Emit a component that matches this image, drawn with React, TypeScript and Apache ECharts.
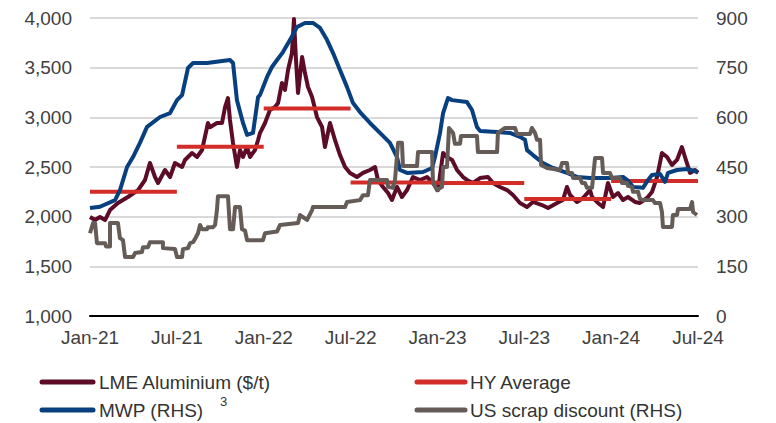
import React, { useEffect, useRef } from "react";
import * as echarts from "echarts";

// x positions are months since Jan-21 (0 = Jan-21, 42 = Jul-24)
const xTickLabels = ["Jan-21", "Jul-21", "Jan-22", "Jul-22", "Jan-23", "Jul-23", "Jan-24", "Jul-24"];
const leftTicks = [1000, 1500, 2000, 2500, 3000, 3500, 4000];
const rightTicks = [0, 150, 300, 450, 600, 750, 900];

// LME Aluminium ($/t), left axis
const lmeAluminium: [number, number][] = [
  [0, 1997], [0.35, 1966], [0.69, 1997], [1.04, 1966], [1.38, 2067], [1.93, 2138], [2.62, 2198],
  [3.32, 2268], [3.8, 2369], [4.14, 2540], [4.49, 2399], [4.7, 2339], [5.18, 2470], [5.53, 2399],
  [5.87, 2540], [6.36, 2500], [6.56, 2571], [7.05, 2641], [7.39, 2601], [7.74, 2671], [8.15, 2943],
  [8.29, 2900], [8.77, 2943], [9.12, 2943], [9.33, 3104], [9.53, 3194], [9.67, 2973], [9.88, 2742],
  [10.15, 2500], [10.36, 2671], [10.57, 2601], [10.85, 2701], [11.05, 2601], [11.4, 2671], [11.61, 2772],
  [11.74, 2842], [12.09, 2943], [12.43, 3074], [12.78, 3104], [12.99, 3144], [13.26, 3346], [13.47, 3275],
  [13.68, 3477], [13.95, 3648], [14.09, 3990], [14.23, 3577], [14.37, 3245], [14.65, 3608], [14.85, 3446],
  [15.06, 3305], [15.34, 3205], [15.68, 3003], [16.03, 2903], [16.23, 2701], [16.58, 2943], [16.92, 2772],
  [17.27, 2620], [17.62, 2500], [17.96, 2440], [18.44, 2399], [18.86, 2440], [19.34, 2470], [19.69, 2500],
  [19.89, 2369], [20.24, 2299], [20.59, 2238], [20.86, 2168], [21.21, 2299], [21.55, 2198], [21.9, 2268],
  [22.31, 2399], [22.8, 2369], [23.28, 2399], [23.69, 2339], [24.04, 2268], [24.39, 2641], [24.66, 2600],
  [25.01, 2571], [25.35, 2470], [25.77, 2399], [26.04, 2370], [26.46, 2339], [26.94, 2389], [27.49, 2399],
  [27.84, 2339], [28.32, 2299], [28.81, 2268], [29.22, 2218], [29.7, 2138], [30.19, 2097], [30.6, 2148],
  [31.22, 2117], [31.64, 2087], [32.26, 2138], [32.67, 2168], [32.95, 2299], [33.16, 2218], [33.64, 2148],
  [34.06, 2188], [34.54, 2268], [34.68, 2198], [35.09, 2138], [35.44, 2097], [35.78, 2339], [36.13, 2198],
  [36.47, 2238], [36.82, 2168], [37.16, 2198], [37.65, 2148], [37.99, 2138], [38.48, 2188], [38.82, 2248],
  [39.17, 2399], [39.51, 2641], [39.86, 2601], [40.2, 2520], [40.55, 2571], [40.89, 2701], [41.1, 2601],
  [41.45, 2440], [41.79, 2470], [42, 2440]
];

// Half-year average of LME ($/t), left axis: [start, end, value]
const hyAverage: [number, number, number][] = [
  [0, 6, 2250], [6, 12, 2705], [12, 18, 3090], [18, 24, 2345], [24, 30, 2338], [30, 36, 2178], [36, 42, 2360]
];

// MWP (RHS)
const mwp: [number, number][] = [
  [0, 326], [0.69, 330], [1.73, 350], [2.07, 380], [2.56, 450], [2.97, 480], [3.45, 523], [3.94, 571],
  [4.84, 601], [5.53, 613], [6.01, 652], [6.36, 667], [6.77, 749], [7.12, 764], [8.08, 764], [9.67, 773],
  [9.88, 764], [10.15, 652], [10.57, 583], [10.85, 547], [11.26, 553], [11.61, 661], [11.74, 667],
  [12.23, 722], [12.57, 752], [12.92, 773], [13.33, 797], [13.82, 834], [14.3, 873], [14.85, 885],
  [15.4, 885], [15.89, 870], [16.37, 834], [16.79, 794], [17.27, 743], [17.75, 692], [18.17, 643],
  [18.65, 616], [19.34, 583], [20.03, 553], [20.72, 523], [21.21, 480], [21.41, 441], [21.9, 432],
  [23.0, 435], [23.63, 447], [23.83, 480], [24.18, 553], [24.39, 613], [24.73, 658], [25.01, 652],
  [26.04, 646], [26.39, 622], [26.73, 571], [26.94, 559], [28.12, 556], [29.01, 553], [29.7, 541],
  [30.05, 532], [30.19, 501], [30.6, 486], [31.29, 462], [31.98, 447], [32.95, 432], [33.64, 420],
  [34.54, 417], [35.92, 417], [36.82, 420], [37.1, 411], [37.51, 390], [38.2, 387], [38.55, 411],
  [38.82, 426], [39.38, 429], [39.72, 405], [39.93, 432], [40.55, 441], [41.24, 444], [42, 435]
];

// US scrap discount (RHS)
const usScrapDiscount: [number, number][] = [
  [0, 250], [0.21, 281], [0.35, 281], [0.48, 220], [1.04, 220], [1.11, 210], [1.38, 210], [1.38, 281],
  [1.93, 281], [2.07, 235], [2.28, 229], [2.42, 178], [2.97, 178], [3.11, 190], [3.59, 193], [3.66, 208],
  [4.01, 208], [4.14, 223], [5.04, 223], [5.04, 205], [5.87, 202], [6.01, 178], [6.36, 178], [6.42, 202],
  [6.77, 205], [6.91, 220], [7.12, 223], [7.25, 232], [7.46, 250], [7.6, 275], [7.74, 262], [8.08, 262],
  [8.15, 268], [8.5, 268], [8.64, 275], [8.77, 320], [8.84, 362], [9.53, 362], [9.67, 262], [9.88, 262],
  [10.02, 329], [10.36, 329], [10.5, 262], [10.71, 258], [10.85, 229], [11.95, 229], [12.09, 250],
  [12.92, 255], [13.13, 275], [14.37, 281], [14.51, 305], [14.99, 290], [15.34, 320], [15.4, 329],
  [17.62, 329], [17.75, 344], [18.65, 350], [18.86, 365], [19.2, 365], [19.34, 411], [20.52, 411],
  [20.59, 390], [20.93, 387], [21.07, 411], [21.28, 523], [21.55, 523], [21.62, 453], [22.59, 453],
  [22.66, 495], [23.63, 495], [23.69, 405], [23.97, 380], [24.32, 390], [24.39, 450], [24.66, 450],
  [24.8, 568], [25.08, 553], [25.21, 520], [25.56, 520], [25.63, 544], [26.73, 544], [26.8, 495],
  [28.12, 495], [28.18, 553], [28.67, 568], [29.36, 568], [29.5, 550], [30.4, 550], [30.53, 568],
  [30.74, 553], [30.88, 532], [31.09, 532], [31.16, 456], [31.57, 447], [32.47, 441], [32.61, 462],
  [32.95, 462], [33.02, 432], [33.3, 432], [33.37, 417], [33.85, 417], [33.99, 402], [34.19, 402],
  [34.33, 387], [34.68, 387], [34.89, 477], [35.37, 477], [35.44, 432], [35.92, 432], [36.06, 417],
  [36.61, 417], [36.75, 402], [37.1, 402], [37.16, 393], [37.44, 390], [37.51, 375], [37.86, 375],
  [37.99, 354], [38.2, 350], [38.89, 350], [39.03, 341], [39.38, 341], [39.51, 314], [39.58, 269],
  [40.2, 269], [40.27, 305], [40.55, 305], [40.62, 323], [41.45, 323], [41.59, 344], [41.66, 314],
  [41.93, 305]
];

const FONT = "'Liberation Sans', Arial, Helvetica, sans-serif";
const TEXT = "#404040";
const C_LME = "#5c0c27";
const C_HY = "#d22d28";
const C_MWP = "#073f7f";
const C_SCRAP = "#655c57";

export default function App() {
  const ref = useRef<HTMLDivElement>(null);

  useEffect(() => {
    document.body.style.margin = "0";
    if (!ref.current) return;
    const chart = echarts.init(ref.current, undefined, { renderer: "svg" });

    const hySeries = hyAverage.map(([a, b, v]) => ({
      name: "HY Average",
      type: "line" as const,
      yAxisIndex: 0,
      symbol: "none",
      z: 3,
      lineStyle: { color: C_HY, width: 4, cap: "butt" as const },
      itemStyle: { color: C_HY },
      data: [[a, v], [b, v]],
    }));

    const legendCommon = {
      orient: "vertical" as const,
      top: 372,
      height: 60,
      padding: 0,
      itemHeight: 5,
      itemGap: 8,
      icon: "none",
      textStyle: { color: "#333", fontSize: 19, fontFamily: FONT, lineHeight: 20 },
    };

    const legendLine = (x1: number, x2: number, y: number, color: string) => ({
      type: "line",
      shape: { x1, y1: y, x2, y2: y },
      style: { stroke: color, lineWidth: 5, lineCap: "round" },
      silent: true,
    });

    chart.setOption({
      animation: false,
      textStyle: { fontFamily: FONT },
      grid: { left: 90, right: 78, top: 18, bottom: 107 },
      xAxis: {
        type: "value",
        min: 0,
        max: 42,
        interval: 6,
        axisLine: { show: true, onZero: false, lineStyle: { color: "#000", width: 2 } },
        axisTick: { show: false },
        splitLine: { show: false },
        axisLabel: {
          color: TEXT,
          fontSize: 19,
          fontFamily: FONT,
          margin: 12,
          formatter: (v: number) => xTickLabels[Math.round(v / 6)] ?? "",
        },
      },
      yAxis: [
        {
          type: "value",
          min: leftTicks[0],
          max: leftTicks[leftTicks.length - 1],
          interval: 500,
          axisLine: { show: false },
          axisTick: { show: false },
          splitLine: { show: true, lineStyle: { color: "#d9d9d9", width: 2 } },
          axisLabel: {
            color: TEXT,
            fontSize: 19,
            fontFamily: FONT,
            margin: 18,
            formatter: (v: number) => v.toLocaleString("en-US"),
          },
        },
        {
          type: "value",
          min: rightTicks[0],
          max: rightTicks[rightTicks.length - 1],
          interval: 150,
          axisLine: { show: false },
          axisTick: { show: false },
          splitLine: { show: false },
          axisLabel: { color: TEXT, fontSize: 19, fontFamily: FONT, margin: 18 },
        },
      ],
      legend: [
        { ...legendCommon, data: ["LME Aluminium ($/t)", "MWP (RHS)"], left: 40, itemWidth: 54 },
        { ...legendCommon, data: ["HY Average", "US scrap discount (RHS)"], left: 413, itemWidth: 52 },
      ],
      graphic: [
        legendLine(42, 93, 382, C_LME),
        legendLine(42, 93, 410, C_MWP),
        legendLine(417, 465, 382, C_HY),
        legendLine(417, 465, 410, C_SCRAP),
        {
          type: "text",
          left: 220,
          top: 395,
          style: { text: "3", fill: "#333", fontSize: 13, fontFamily: FONT },
        },
      ],
      series: [
        {
          name: "LME Aluminium ($/t)",
          type: "line",
          yAxisIndex: 0,
          symbol: "none",
          z: 2,
          lineStyle: { color: C_LME, width: 4, join: "round" },
          itemStyle: { color: C_LME },
          data: lmeAluminium,
        },
        ...hySeries,
        {
          name: "MWP (RHS)",
          type: "line",
          yAxisIndex: 1,
          symbol: "none",
          z: 4,
          lineStyle: { color: C_MWP, width: 4, join: "round" },
          itemStyle: { color: C_MWP },
          data: mwp,
        },
        {
          name: "US scrap discount (RHS)",
          type: "line",
          yAxisIndex: 1,
          symbol: "none",
          z: 5,
          lineStyle: { color: C_SCRAP, width: 4, join: "round" },
          itemStyle: { color: C_SCRAP },
          data: usScrapDiscount,
        },
      ],
    });

    return () => chart.dispose();
  }, []);

  return <div ref={ref} style={{ width: 776, height: 423 }} />;
}
